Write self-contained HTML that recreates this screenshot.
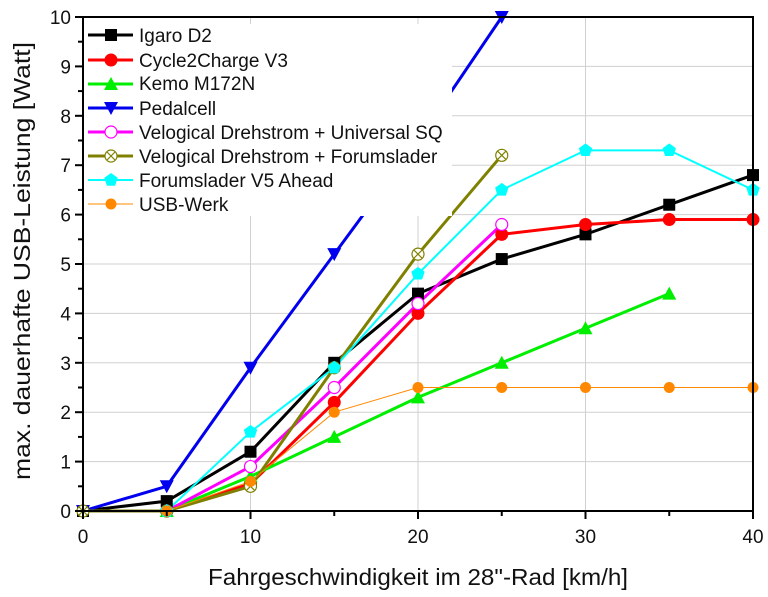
<!DOCTYPE html>
<html><head><meta charset="utf-8"><style>
body{margin:0;background:#fff}
svg{display:block;font-family:"Liberation Sans",Arial,sans-serif}
</style></head><body>
<svg id="s" width="768" height="597" viewBox="0 0 768 597" xmlns="http://www.w3.org/2000/svg">
<g id="grid" stroke="#d0d0d0" stroke-width="1"></g>
<g id="series"></g>
<rect x="84" y="24" width="368" height="192" fill="#fff"/>
<g id="leg"></g>
<g font-size="19" fill="#111">
<text x="139" y="42">Igaro D2</text>
<text x="139" y="67">Cycle2Charge V3</text>
<text x="139" y="90">Kemo M172N</text>
<text x="139" y="115">Pedalcell</text>
<text x="139" y="139">Velogical Drehstrom + Universal SQ</text>
<text x="139" y="163">Velogical Drehstrom + Forumslader</text>
<text x="139" y="187">Forumslader V5 Ahead</text>
<text x="139" y="211">USB-Werk</text>
</g>
<g id="axes" stroke="#000" stroke-width="2" fill="none"></g>
<g id="ticks" font-size="19" fill="#111"></g>
<text x="418" y="585" font-size="23" text-anchor="middle" fill="#111" textLength="420" lengthAdjust="spacingAndGlyphs">Fahrgeschwindigkeit im 28"-Rad [km/h]</text>
<text transform="translate(30,261) rotate(-90)" font-size="23" text-anchor="middle" fill="#111" textLength="438" lengthAdjust="spacingAndGlyphs">max. dauerhafte USB-Leistung [Watt]</text>
</svg>
<script>
const NS="http://www.w3.org/2000/svg";
const X=v=>83+v*16.75, Y=v=>511-v*49.4;
function el(p,t,a){const e=document.createElementNS(NS,t);for(const k in a)e.setAttribute(k,a[k]);p.appendChild(e);return e;}
const g=document.getElementById('grid');
[10,20,30].forEach(v=>el(g,'line',{x1:X(v),x2:X(v),y1:Y(0),y2:Y(10)}));
for(let i=1;i<10;i++)el(g,'line',{x1:X(0),x2:X(40),y1:Y(i),y2:Y(i)});
const S=[
{c:'#000',w:3,m:'sq',d:[[0,0],[5,.2],[10,1.2],[15,3],[20,4.4],[25,5.1],[30,5.6],[35,6.2],[40,6.8]]},
{c:'#f00',w:3,m:'ci',d:[[5,0],[10,.55],[15,2.2],[20,4],[25,5.6],[30,5.8],[35,5.9],[40,5.9]]},
{c:'#0e0',w:3,m:'tu',d:[[5,0],[10,.7],[15,1.5],[20,2.3],[25,3],[30,3.7],[35,4.4]]},
{c:'#00e',w:3,m:'td',d:[[0,0],[5,.5],[10,2.9],[15,5.2],[20,7.5],[25,10]]},
{c:'#f0f',w:3,m:'oc',d:[[5,0],[10,.9],[15,2.5],[20,4.2],[25,5.8]]},
{c:'#808000',w:3,m:'xc',d:[[0,0],[5,0],[10,.5],[15,2.9],[20,5.2],[25,7.2]]},
{c:'#0ff',w:2,m:'pe',d:[[5,0],[10,1.6],[15,2.9],[20,4.8],[25,6.5],[30,7.3],[35,7.3],[40,6.5]]},
{c:'#f80',w:1,m:'ci2',d:[[5,0],[10,.6],[15,2],[20,2.5],[25,2.5],[30,2.5],[35,2.5],[40,2.5]]}
];
function mk(p,m,c,x,y){
 if(m=='sq')el(p,'rect',{x:x-6,y:y-6,width:12,height:12,fill:c});
 else if(m=='ci')el(p,'circle',{cx:x,cy:y,r:6.5,fill:c});
 else if(m=='ci2')el(p,'circle',{cx:x,cy:y,r:5.5,fill:c});
 else if(m=='tu')el(p,'polygon',{points:`${x},${y-7} ${x-7},${y+6} ${x+7},${y+6}`,fill:c});
 else if(m=='td')el(p,'polygon',{points:`${x},${y+7} ${x-7},${y-6} ${x+7},${y-6}`,fill:c});
 else if(m=='oc')el(p,'circle',{cx:x,cy:y,r:6,fill:'#fff',stroke:c,'stroke-width':1.2});
 else if(m=='xc'){el(p,'circle',{cx:x,cy:y,r:6,fill:'#fff',stroke:c,'stroke-width':1.2});el(p,'path',{d:`M${x-4} ${y-4}L${x+4} ${y+4}M${x-4} ${y+4}L${x+4} ${y-4}`,stroke:c,'stroke-width':1.2});}
 else if(m=='pe'){let pts=[];for(let i=0;i<5;i++){const a=-Math.PI/2+i*2*Math.PI/5;pts.push((x+7*Math.cos(a)).toFixed(1)+','+(y+7*Math.sin(a)).toFixed(1));}el(p,'polygon',{points:pts.join(' '),fill:c});}
}
const sg=document.getElementById('series');
S.forEach(s=>{el(sg,'polyline',{points:s.d.map(p=>X(p[0])+','+Y(p[1])).join(' '),fill:'none',stroke:s.c,'stroke-width':s.w});});
S.forEach(s=>s.d.forEach(p=>mk(sg,s.m,s.c,X(p[0]),Y(p[1]))));
const lg=document.getElementById('leg');
const ly=[35,60,84,108,132,156,180,204];
S.forEach((s,i)=>{el(lg,'line',{x1:88,x2:133,y1:ly[i],y2:ly[i],stroke:s.c,'stroke-width':s.w});mk(lg,s.m,s.c,111,ly[i]);});
const ax=document.getElementById('axes');
el(ax,'rect',{x:X(0),y:Y(10),width:X(40)-X(0),height:Y(0)-Y(10)});
for(let v=0;v<=40;v+=5)el(ax,'line',{x1:X(v),x2:X(v),y1:Y(0),y2:Y(0)+(v%10?5:8)});
for(let v=0;v<=10;v+=.5)el(ax,'line',{x1:X(0),x2:X(0)-(v%1?5:8),y1:Y(v),y2:Y(v)});
const tk=document.getElementById('ticks');
for(let v=0;v<=40;v+=10){const t=el(tk,'text',{x:X(v),y:Y(0)+32,'text-anchor':'middle'});t.textContent=v;}
for(let v=0;v<=10;v++){const t=el(tk,'text',{x:X(0)-12,y:Y(v)+7,'text-anchor':'end'});t.textContent=v;}
</script>
</body></html>
